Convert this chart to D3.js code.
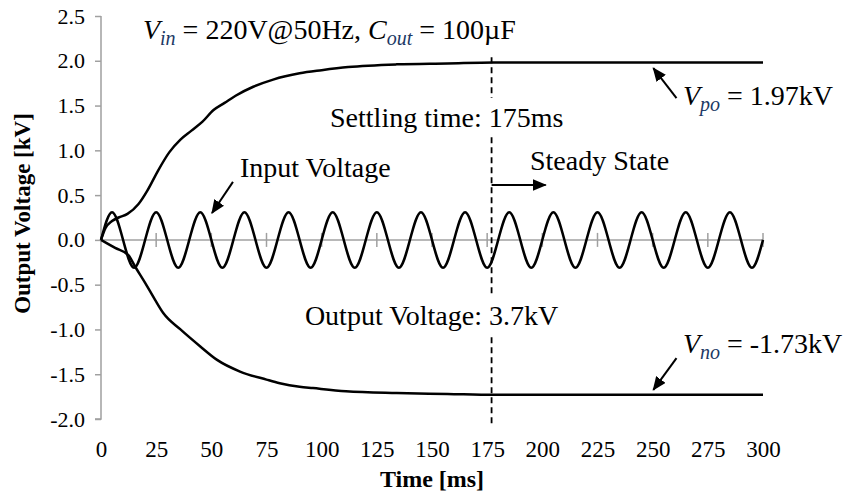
<!DOCTYPE html>
<html>
<head>
<meta charset="utf-8">
<script src="https://cdn.jsdelivr.net/npm/d3@7"></script>
<style>
  body { margin: 0; background: #fff; }
  text { font-family: "Liberation Serif", "Times New Roman", serif; }
</style>
</head>
<body>
<svg id="chart"></svg>
<script>
// axis ticks
const timeTicks = [0, 25, 50, 75, 100, 125, 150, 175, 200, 225, 250, 275, 300];
const voltTicks = [-2.0, -1.5, -1.0, -0.5, 0.0, 0.5, 1.0, 1.5, 2.0, 2.5];

// positive output voltage (kV)
const posT = [0, 2, 5, 8, 12, 17, 21, 26, 31, 36, 41, 46, 51, 56, 61, 69, 78, 90, 100, 112, 134, 157, 178, 200, 250, 300];
const posV = [0, 0.13, 0.21, 0.25, 0.29, 0.40, 0.55, 0.78, 0.98, 1.12, 1.22, 1.32, 1.45, 1.53, 1.61, 1.71, 1.79, 1.86, 1.895, 1.93, 1.96, 1.97, 1.98, 1.98, 1.98, 1.98];

// negative output voltage (kV)
const negT = [0, 6.4, 12.4, 15.5, 20, 24.5, 28.3, 36, 45, 52.6, 63, 75, 81, 90, 96, 111, 134, 157, 178, 200, 250, 300];
const negV = [0, -0.09, -0.17, -0.30, -0.48, -0.67, -0.82, -1.0, -1.19, -1.34, -1.47, -1.56, -1.60, -1.64, -1.655, -1.69, -1.71, -1.72, -1.73, -1.73, -1.73, -1.73];

// input voltage (kV), sampled every quarter period
const inT = [0, 5, 10, 15, 20, 25, 30, 35, 40, 45, 50, 55, 60, 65, 70, 75, 80, 85, 90, 95,
  100, 105, 110, 115, 120, 125, 130, 135, 140, 145, 150, 155, 160, 165, 170, 175, 180, 185, 190, 195,
  200, 205, 210, 215, 220, 225, 230, 235, 240, 245, 250, 255, 260, 265, 270, 275, 280, 285, 290, 295, 300];
const inV = [0, 0.31, 0, -0.31, 0, 0.31, 0, -0.31, 0, 0.31, 0, -0.31, 0, 0.31, 0, -0.31, 0, 0.31, 0, -0.31,
  0, 0.31, 0, -0.31, 0, 0.31, 0, -0.31, 0, 0.31, 0, -0.31, 0, 0.31, 0, -0.31, 0, 0.31, 0, -0.31,
  0, 0.31, 0, -0.31, 0, 0.31, 0, -0.31, 0, 0.31, 0, -0.31, 0, 0.31, 0, -0.31, 0, 0.31, 0, -0.31, 0];

const settleT = 177;

const width = 845, height = 496;
const svg = d3.select("#chart").attr("width", width).attr("height", height);

const x = d3.scaleLinear().domain([0, 300]).range([101, 763]);
const y = d3.scaleLinear().domain([-2, 2.5]).range([419, 16]);

const axisGrey = "#a0a0a0";

// y axis
const yAxis = svg.append("g")
    .attr("transform", "translate(" + x(0) + ",0)")
    .call(d3.axisLeft(y).tickValues(voltTicks).tickSize(6).tickPadding(10)
      .tickFormat(d => d.toFixed(1)));
yAxis.select(".domain").attr("stroke", axisGrey).attr("stroke-width", 1.5).attr("d", "M0," + y(2.5) + "V" + y(-2) + "H-6");
yAxis.selectAll(".tick line").attr("stroke", axisGrey).attr("stroke-width", 1.5);
yAxis.selectAll("text").attr("font-size", 22).attr("fill", "#000").attr("font-family", "Liberation Serif");

// x tick labels along the bottom
const xAxis = svg.append("g")
    .attr("transform", "translate(0," + (y(-2) + 16) + ")")
    .call(d3.axisBottom(x).tickValues(timeTicks).tickSize(0).tickPadding(6));
xAxis.select(".domain").remove();
xAxis.selectAll("text").attr("font-size", 23).attr("fill", "#000").attr("font-family", "Liberation Serif");

// zero line with crossing ticks
svg.append("line")
    .attr("x1", x(0)).attr("x2", x(300))
    .attr("y1", y(0)).attr("y2", y(0))
    .attr("stroke", axisGrey).attr("stroke-width", 1.5);
svg.append("g").selectAll("line").data(timeTicks.slice(1)).join("line")
    .attr("x1", d => x(d)).attr("x2", d => x(d))
    .attr("y1", y(0) - 7).attr("y2", y(0) + 7)
    .attr("stroke", axisGrey).attr("stroke-width", 1.5);

// axis titles
svg.append("text")
    .attr("transform", "translate(30," + ((y(2.5) + y(-2)) / 2 - 4) + ") rotate(-90)")
    .attr("text-anchor", "middle")
    .attr("font-size", 23).attr("font-weight", "bold")
    .text("Output Voltage [kV]");
svg.append("text")
    .attr("x", (x(0) + x(300)) / 2).attr("y", 487)
    .attr("text-anchor", "middle")
    .attr("font-size", 24).attr("font-weight", "bold")
    .text("Time [ms]");

// settling time marker
svg.append("line")
    .attr("x1", x(settleT)).attr("x2", x(settleT))
    .attr("y1", y(2.04)).attr("y2", y(-2.07))
    .attr("stroke", "#000").attr("stroke-width", 1.8)
    .attr("stroke-dasharray", "6,4");

// curves
const line = d3.line().x(d => x(d[0])).y(d => y(d[1]));
const series = [
  { pts: d3.zip(inT, inV), curve: d3.curveNatural },
  { pts: d3.zip(posT, posV), curve: d3.curveMonotoneX },
  { pts: d3.zip(negT, negV), curve: d3.curveMonotoneX }
];
svg.append("g").selectAll("path").data(series).join("path")
    .attr("d", s => line.curve(s.curve)(s.pts))
    .attr("fill", "none").attr("stroke", "#000").attr("stroke-width", 2.5)
    .attr("stroke-linejoin", "round");

// arrows
svg.append("defs").append("marker")
    .attr("id", "head").attr("viewBox", "0 0 12 10")
    .attr("refX", 11).attr("refY", 5)
    .attr("markerWidth", 7).attr("markerHeight", 6)
    .attr("markerUnits", "strokeWidth").attr("orient", "auto")
  .append("path").attr("d", "M0,0L12,5L0,10Z").attr("fill", "#000");

const arrows = [
  [59.8, 0.648, 50.3, 0.30],
  [settleT, 0.614, 201.5, 0.614],
  [260.8, 1.582, 250.3, 1.917],
  [260.8, -1.321, 250.3, -1.675]
];
svg.append("g").selectAll("line").data(arrows).join("line")
    .attr("x1", d => x(d[0])).attr("y1", d => y(d[1]))
    .attr("x2", d => x(d[2])).attr("y2", d => y(d[3]))
    .attr("stroke", "#000").attr("stroke-width", 2)
    .attr("marker-end", "url(#head)");

// annotation texts; parts: [text, style] where style i = italic, s = italic subscript
const subColor = "#203864";
const notes = [
  { t: 19, v: 2.244, box: false, parts: [["V", "i"], ["in", "s"], [" = 220V@50Hz, "], ["C", "i"], ["out", "s"], [" = 100\u00b5F"]] },
  { t: 103.8, v: 1.262, box: true, parts: [["Settling time: 175ms"]] },
  { t: 63, v: 0.703, box: false, parts: [["Input Voltage"]] },
  { t: 194.4, v: 0.782, box: false, parts: [["Steady State"]] },
  { t: 263.7, v: 1.507, box: false, parts: [["V", "i"], ["po", "s"], [" = 1.97kV"]] },
  { t: 92.4, v: -0.949, box: true, parts: [["Output Voltage: 3.7kV"]] },
  { t: 263.7, v: -1.262, box: false, parts: [["V", "i"], ["no", "s"], [" = -1.73kV"]] }
];

notes.forEach(n => {
  const g = svg.append("g");
  const txt = g.append("text")
      .attr("x", x(n.t)).attr("y", y(n.v))
      .attr("font-size", 28).attr("fill", "#000");
  let shifted = false;
  n.parts.forEach(p => {
    const ts = txt.append("tspan").text(p[0]);
    if (p[1] === "i") ts.attr("font-style", "italic");
    if (p[1] === "s") {
      ts.attr("font-style", "italic").attr("font-size", 20).attr("fill", subColor).attr("dy", 6);
      shifted = true;
    } else if (shifted) {
      ts.attr("dy", -6);
      shifted = false;
    }
  });
  if (n.box) {
    const b = txt.node().getBBox();
    g.insert("rect", "text")
        .attr("x", b.x - 2).attr("y", b.y - 4)
        .attr("width", b.width + 4).attr("height", b.height + 8)
        .attr("fill", "#fff");
  }
});
</script>
</body>
</html>
